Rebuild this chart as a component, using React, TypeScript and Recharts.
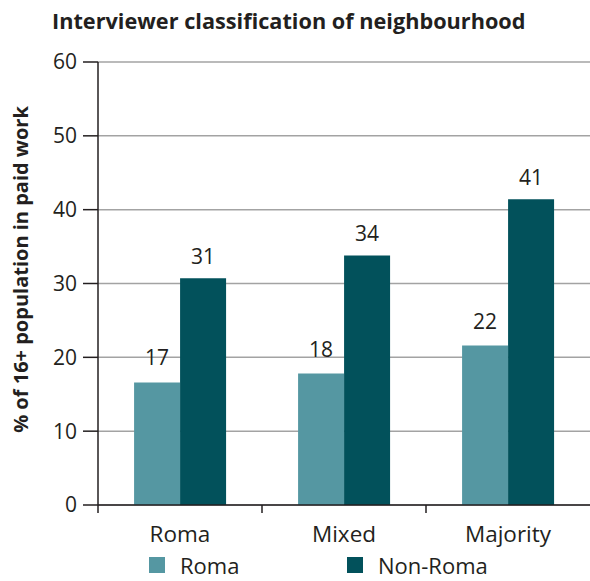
import React from 'react';
import { BarChart, Bar, XAxis, YAxis, CartesianGrid, Legend, LabelList, Label } from 'recharts';

const categories = ['Roma', 'Mixed', 'Majority'];
const romaValues = [16.6, 17.8, 21.6];
const nonRomaValues = [30.7, 33.8, 41.4];
const yTicks = [0, 10, 20, 30, 40, 50, 60];

const ROMA = '#5597a2';
const NON_ROMA = '#02515b';
const INK = '#231f20';
const FONT = '"Open Sans", "Noto Sans", sans-serif';

const data = categories.map((name, i) => ({
  name,
  roma: romaValues[i],
  nonRoma: nonRomaValues[i],
}));

const W = 590;
const H = 581;
const PLOT_LEFT = 98;
const BAND = (W - PLOT_LEFT) / categories.length;

function CategoryTick(props: any) {
  const { x, y, payload } = props;
  return (
    <g>
      <line x1={x - BAND / 2} x2={x - BAND / 2} y1={y} y2={y + 8} stroke={INK} strokeWidth={1.5} />
      <text x={x} y={y + 37} textAnchor="middle" fontSize={22.5} fill={INK} fontFamily={FONT}>
        {payload.value}
      </text>
    </g>
  );
}

function YTitle(props: any) {
  const { viewBox } = props;
  const cy = viewBox.y + viewBox.height / 2 - 14;
  return (
    <text
      x={20}
      y={cy}
      transform={`rotate(-90, 20, ${cy})`}
      textAnchor="middle"
      dominantBaseline="central"
      fontSize={20}
      fontWeight={700}
      fill={INK}
      fontFamily={FONT}
    >
      % of 16+ population in paid work
    </text>
  );
}

function LegendBox() {
  const items = [
    { label: 'Roma', color: ROMA, left: 149 },
    { label: 'Non-Roma', color: NON_ROMA, left: 347 },
  ];
  return (
    <div style={{ position: 'relative', height: 30, width: W, fontFamily: FONT }}>
      {items.map((it) => (
        <div key={it.label} style={{ position: 'absolute', left: it.left, top: 6, display: 'flex', alignItems: 'center' }}>
          <span style={{ width: 16, height: 16, background: it.color, display: 'inline-block' }} />
          <span style={{ marginLeft: 15, fontSize: 22, color: INK, lineHeight: '16px' }}>{it.label}</span>
        </div>
      ))}
    </div>
  );
}

export default function App() {
  return (
    <div style={{ position: 'absolute', left: 0, top: 0, width: W, height: H, background: '#fff', fontFamily: FONT }}>
      <div
        style={{
          position: 'absolute',
          left: 52,
          top: 6,
          fontSize: 21.7,
          fontWeight: 700,
          color: INK,
          whiteSpace: 'nowrap',
          zIndex: 2,
        }}
      >
        Interviewer classification of neighbourhood
      </div>
      <BarChart
        width={W}
        height={H}
        data={data}
        margin={{ top: 62, right: 0, left: 0, bottom: 0 }}
        barCategoryGap="22%"
        barGap={0}
      >
        <CartesianGrid vertical={false} stroke="#a3a3a3" strokeWidth={1.5} />
        <XAxis
          dataKey="name"
          axisLine={{ stroke: INK, strokeWidth: 1.5 }}
          tickLine={false}
          tickSize={0}
          tickMargin={0}
          height={46}
          tick={<CategoryTick />}
          interval={0}
        />
        <YAxis
          width={PLOT_LEFT}
          domain={[0, 60]}
          ticks={yTicks}
          interval={0}
          tickSize={15}
          tickMargin={6}
          axisLine={{ stroke: INK, strokeWidth: 1.5 }}
          tickLine={{ stroke: INK, strokeWidth: 1.5 }}
          tick={{ fontSize: 21, fill: INK, fontFamily: FONT }}
        >
          <Label content={<YTitle />} />
        </YAxis>
        <Legend verticalAlign="bottom" height={30} content={<LegendBox />} />
        <Bar dataKey="roma" name="Roma" fill={ROMA} isAnimationActive={false}>
          <LabelList
            dataKey="roma"
            position="top"
            offset={17}
            formatter={(v: any) => Math.round(Number(v))}
            style={{ fontSize: 21, fill: INK, fontFamily: FONT }}
          />
        </Bar>
        <Bar dataKey="nonRoma" name="Non-Roma" fill={NON_ROMA} isAnimationActive={false}>
          <LabelList
            dataKey="nonRoma"
            position="top"
            offset={14}
            formatter={(v: any) => Math.round(Number(v))}
            style={{ fontSize: 21, fill: INK, fontFamily: FONT }}
          />
        </Bar>
      </BarChart>
    </div>
  );
}
